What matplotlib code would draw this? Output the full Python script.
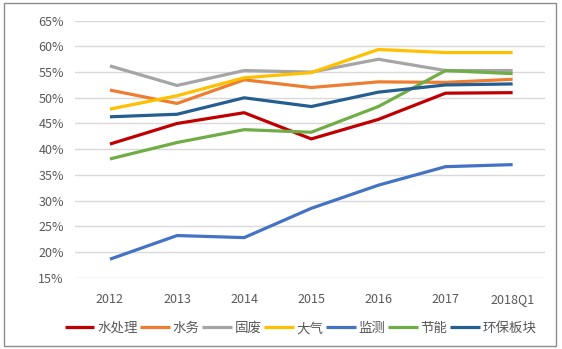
import matplotlib.pyplot as plt
from matplotlib.patches import Rectangle

plt.rcParams['font.family'] = ['Noto Sans CJK SC', 'DejaVu Sans']

years = ["2012", "2013", "2014", "2015", "2016", "2017", "2018Q1"]
water_treat = [41.0, 45.0, 47.1, 42.0, 45.8, 50.9, 51.0]
water_util = [51.5, 48.9, 53.5, 52.0, 53.1, 53.0, 53.6]
solid_waste = [56.2, 52.4, 55.3, 55.0, 57.5, 55.3, 55.3]
air = [47.8, 50.4, 53.9, 54.9, 59.4, 58.8, 58.8]
monitor = [18.6, 23.2, 22.8, 28.5, 33.0, 36.6, 37.0]
energy = [38.1, 41.3, 43.8, 43.3, 48.3, 55.3, 54.7]
sector = [46.3, 46.8, 50.0, 48.3, 51.1, 52.5, 52.7]

series = [
    ("水处理", water_treat, "#C00000"),
    ("水务", water_util, "#ED7D31"),
    ("固废", solid_waste, "#A5A5A5"),
    ("大气", air, "#FFC000"),
    ("监测", monitor, "#4472C4"),
    ("节能", energy, "#70AD47"),
    ("环保板块", sector, "#255E91"),
]

fig = plt.figure(figsize=(5.62, 3.49), dpi=100)
ax = fig.add_axes([0.1335, 0.2043, 0.836, 0.7364])

x = range(len(years))
for name, vals, color in series:
    ax.plot(x, vals, color=color, lw=2.3, label=name, solid_capstyle="butt")

ax.set_xlim(-0.52, 6.48)
ax.set_ylim(15, 65)
ax.set_yticks(range(15, 66, 5))
ax.set_yticklabels([f"{v}%" for v in range(15, 66, 5)])
ax.set_xticks(list(x))
ax.set_xticklabels(years)
ax.tick_params(length=0, labelsize=9, labelcolor="#595959", pad=8)
ax.tick_params(axis="x", pad=11)
ax.grid(axis="y", color="#D9D9D9", lw=1)
ax.set_axisbelow(True)
for s in ax.spines.values():
    s.set_visible(False)

fig.legend(loc="center", bbox_to_anchor=(0.535, 0.06), ncol=7, frameon=False,
           fontsize=9.7, labelcolor="#595959", handlelength=2.2,
           handletextpad=0.2, columnspacing=0.2)

fig.patches.append(Rectangle((0.008, 0.01), 0.982, 0.98, transform=fig.transFigure,
                             fill=False, edgecolor="#8C8C8C", lw=1))

fig.savefig("out.png", dpi=100)
